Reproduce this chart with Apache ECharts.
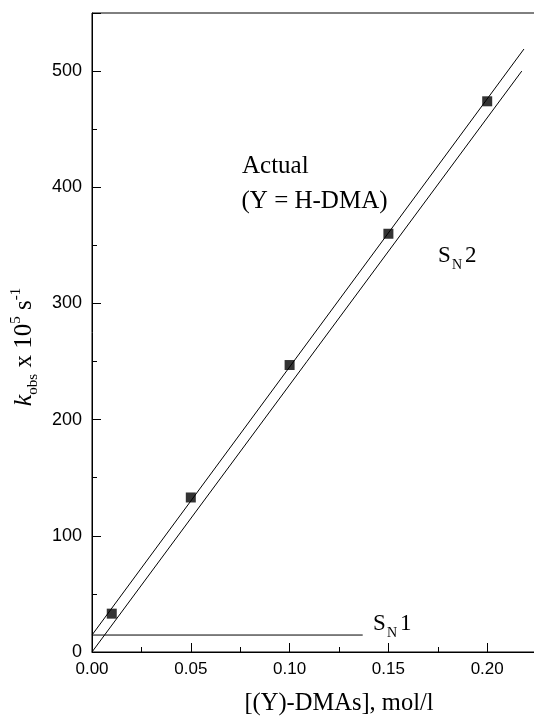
<!DOCTYPE html>
<html>
<head>
<meta charset="utf-8">
<script src="https://cdn.jsdelivr.net/npm/echarts@6/dist/echarts.min.js"></script>
<style>
html,body{margin:0;padding:0;background:#fff;}
#chart{width:534px;height:718px;}
</style>
</head>
<body>
<div id="chart"></div>
<script>
// ---- data ----
const concentration = [0.01, 0.05, 0.10, 0.15, 0.20];      // [(Y)-DMAs], mol/l
const kObsActual   = [33, 133, 247, 360, 474];               // k_obs x 10^5 s^-1
const actualFitLine = [[0, 14.6], [0.2186, 519]];             // fit through the measured points
const sn2Line       = [[0, 0], [0.2175, 500]];                // S_N2 line
const sn1Line       = [[0, 14.6], [0.137, 14.6]];             // S_N1 level
const xRange = [0, 0.25];
const yRange = [0, 550];
const xStep = 0.05;
const yStep = 100;
const yMinorStep = 50;

const serif = 'Liberation Serif';
const sans = 'Liberation Sans';

const chart = echarts.init(document.getElementById('chart'), null, {renderer: 'canvas'});

function sub(text, x, y, size) {
  return {type: 'text', x: x, y: y, silent: true,
    style: {text: text, font: size + 'px "' + serif + '"', fill: '#000', align: 'left', verticalAlign: 'middle'}};
}

const option = {
  animation: false,
  backgroundColor: '#fff',
  grid: {left: 92, top: 13, width: 494, height: 639, outerBoundsMode: 'none', containLabel: false,
         show: true, borderColor: '#000', borderWidth: 1, backgroundColor: 'transparent'},
  xAxis: {
    type: 'value', min: xRange[0], max: xRange[1], interval: xStep,
    axisLine: {lineStyle: {color: '#000', width: 1}},
    axisTick: {inside: true, length: 9, lineStyle: {color: '#000'}},
    minorTick: {show: true, splitNumber: 2, length: 5, lineStyle: {color: '#000'}},
    splitLine: {show: false},
    axisLabel: {formatter: v => v.toFixed(2), fontFamily: sans, fontSize: 17, color: '#000', margin: 9},
    name: '[(Y)-DMAs], mol/l', nameLocation: 'middle', nameGap: 39,
    nameTextStyle: {fontFamily: serif, fontSize: 24.5, color: '#000'}
  },
  yAxis: [{
    type: 'value', min: yRange[0], max: yRange[1], interval: yStep, position: 'left',
    axisLine: {lineStyle: {color: '#000', width: 1}},
    axisTick: {inside: true, length: 9, lineStyle: {color: '#000'}},
    splitLine: {show: false},
    axisLabel: {formatter: v => (v % yStep === 0 ? String(v) : ''), fontFamily: sans, fontSize: 18, color: '#000', margin: 10}
  }, {
    type: 'value', min: yRange[0], max: yRange[1], interval: yMinorStep, position: 'left', offset: 0,
    axisLine: {show: false},
    axisTick: {inside: true, length: 5, lineStyle: {color: '#000'}},
    splitLine: {show: false},
    axisLabel: {show: false}
  }],
  series: [
    {type: 'line', data: actualFitLine, showSymbol: false, lineStyle: {color: '#000', width: 1}, z: 2},
    {type: 'line', data: sn2Line, showSymbol: false, lineStyle: {color: '#000', width: 1}, z: 2},
    {type: 'line', data: sn1Line, showSymbol: false, lineStyle: {color: '#000', width: 1}, z: 2},
    {type: 'scatter', data: concentration.map((c, i) => [c, kObsActual[i]]), symbol: 'rect', symbolSize: 10,
     itemStyle: {color: '#000'}, z: 5}
  ],
  graphic: [
    sub('Actual', 242, 166.5, 25),
    sub('(Y = H-DMA)', 241.5, 201.5, 25),
    sub('S', 438, 256, 23), sub('N', 452, 265, 14), sub('2', 465, 256, 23),
    sub('S', 373, 624, 23), sub('N', 387, 633, 14), sub('1', 400, 624, 23),
    {type: 'text', x: 24.5, y: 347, rotation: Math.PI / 2, silent: true,
     style: {
       text: '{k|k}{sb|obs}{m| x 10}{sp|5}{m| s}{sp|-1}',
       align: 'center', verticalAlign: 'middle', fill: '#000',
       rich: {
         k: {fontFamily: serif, fontStyle: 'italic', fontSize: 26, lineHeight: 32, verticalAlign: 'middle', fill: '#000'},
         m: {fontFamily: serif, fontSize: 25, lineHeight: 32, verticalAlign: 'middle', fill: '#000'},
         sb: {fontFamily: serif, fontSize: 15, lineHeight: 15, verticalAlign: 'bottom', fill: '#000'},
         sp: {fontFamily: serif, fontSize: 15, lineHeight: 15, verticalAlign: 'top', fill: '#000'}
       }
     }}
  ]
};
chart.setOption(option);
</script>
</body>
</html>
